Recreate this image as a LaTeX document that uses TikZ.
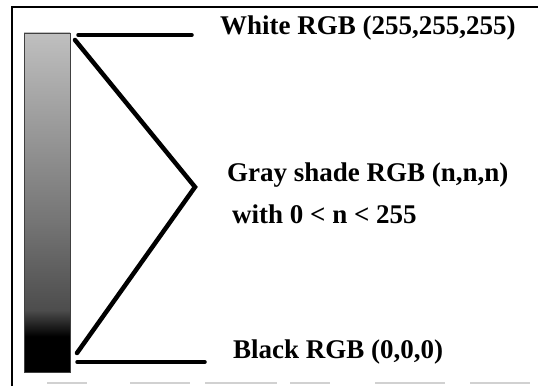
\documentclass[tikz,border=0pt]{standalone}
\usepackage{fontspec}
\setmainfont{Liberation Serif}
\tikzset{
  lbl/.style={anchor=base west, inner sep=0pt, font=\bfseries\fontsize{27}{32}\selectfont},
  conn/.style={line width=3.5pt, line cap=round},
  diag/.style={line width=4.5pt, line join=miter, line cap=round},
  frame/.style={line width=2pt},
  faint/.style={line width=1.6pt, black!18}
}
\begin{document}
\begin{tikzpicture}[x=1pt,y=1pt]
\useasboundingbox (0,0) rectangle (538,386);
\fill[white] (0,0) rectangle (538,386);
% frame
\draw[frame] (12,0) -- (12,379) -- (538,379);
\foreach \a/\b in {47/87,130/190,205/277,290/330,375/445,470/530}
  \draw[faint] (\a,3) -- (\b,3);
% gray bar (stacked shadings)
\fill[black] (24,14) rectangle (70,50);
\shade[bottom color=black, top color=black!70] (24,49.5) rectangle (70,76);
\shade[bottom color=black!70, top color=black!55] (24,75.5) rectangle (70,160);
\shade[bottom color=black!55, top color=black!25] (24,159.5) rectangle (70,353);
\draw[black!75, line width=0.8pt] (24,14) rectangle (70,353);
% labels
\node[lbl] (white) at (220,351) {White RGB (255,255,255)};
\node[lbl] (gray) at (227,204) {Gray shade RGB (n,n,n)};
\node[lbl] (with) at (232,163) {with 0 < n < 255};
\node[lbl] (black) at (233,28) {Black RGB (0,0,0)};
% connector points
\coordinate (wl) at (78,351);
\coordinate (wr) at (192,351);
\coordinate (dtop) at (75,346);
\coordinate (apex) at (195,199);
\coordinate (dbot) at (77,33);
\coordinate (bl) at (77,24);
\coordinate (br) at (205,24);
\draw[conn] (wl) -- (wr);
\draw[diag] (dtop) -- (apex) -- (dbot);
\draw[conn] (bl) -- (br);
\end{tikzpicture}
\end{document}
